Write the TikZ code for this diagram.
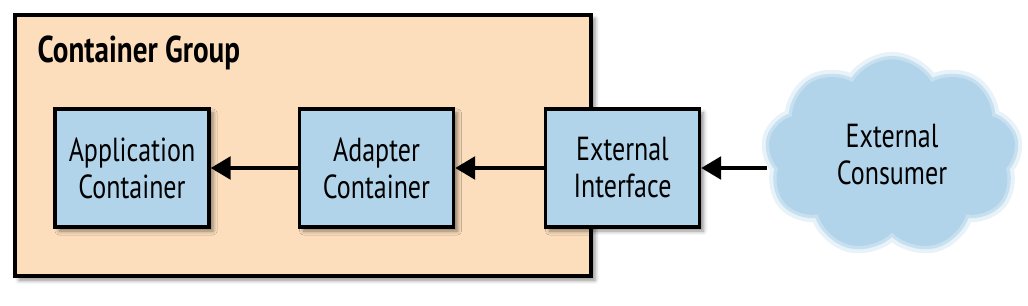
\documentclass[tikz,border=0pt]{standalone}
\usepackage{fontspec}
\setmainfont[FakeStretch=0.78]{PT Sans}
\usetikzlibrary{arrows.meta,shapes.symbols,shadows.blur}
\definecolor{Cpeach}{RGB}{252,222,188}
\definecolor{Cblue}{RGB}{178,212,234}

\begin{document}
\begin{tikzpicture}[x=0.75pt, y=-0.75pt,
      grp/.style={draw=black, fill=Cpeach, line width=2.6pt,
                  minimum width=432pt, minimum height=196pt,
                  blur shadow={shadow xshift=3pt, shadow yshift=-3pt,
                               shadow blur radius=3pt, shadow opacity=45}},
      box/.style={draw=black, fill=Cblue, line width=2.6pt,
                  minimum width=115.5pt, minimum height=88.5pt,
                  align=center, font=\fontsize{25}{27.75}\selectfont,
                  blur shadow={shadow xshift=3pt, shadow yshift=-3pt,
                               shadow blur radius=3pt, shadow opacity=45}},
      cons/.style={cloud, cloud puffs=9, cloud puff arc=120, fill=Cblue,
                   draw=Cblue, draw opacity=0.6, line width=5pt,
                   preaction={draw=Cblue, draw opacity=0.3, line width=11pt},
                   minimum width=186pt, minimum height=128pt,
                   align=center, font=\fontsize{25}{27.75}\selectfont},
      link/.style={-{Triangle[length=15pt,width=17pt]}, line width=2.8pt}]
    \useasboundingbox (0,0) rectangle (1028,306);
    % Group
    \node[grp] (group) at (303,145.5) {};
    \node[font=\bfseries\fontsize{28}{30}\selectfont, anchor=base west]
      (title) at (33,63) {Container Group};
    % Containers
    \node[box] (app)   at (132,168)   {Application\\Container};
    \node[box] (adapt) at (376.5,168) {Adapter\\Container};
    \node[box] (iface) at (622.5,168) {External\\Interface};
    % Consumer
    \node[cons] (cons) at (892,155) {External\\Consumer};
    % Arrows
    \draw[link] (adapt) -- (app);
    \draw[link] (iface) -- (adapt);
    \draw[link] (cons.west |- iface) -- (iface);
  \end{tikzpicture}
\end{document}
